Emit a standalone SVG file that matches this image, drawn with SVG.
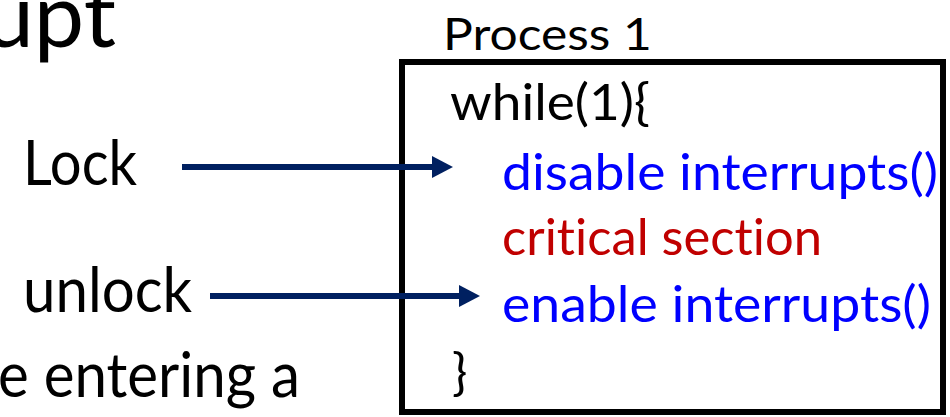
<svg xmlns="http://www.w3.org/2000/svg" width="950" height="417" viewBox="0 0 950 417">
<style>
text{font-family:Lato,"Open Sans","Liberation Sans",sans-serif;fill:#000;font-variant-ligatures:none;font-feature-settings:"liga" 0,"clig" 0}
.big{font-size:61px}
.code{font-size:51px}
.blue{fill:#0000FF}
.red{fill:#C00000}
.conn{stroke:#002060;stroke-width:6;fill:none}
</style>
<defs>
<marker id="ah" markerUnits="userSpaceOnUse" markerWidth="21" markerHeight="22" refX="0" refY="11" orient="auto">
<polygon points="0,0 21,11 0,22" fill="#002060"/>
</marker>
</defs>
<rect width="950" height="417" fill="#fff"/>
<g id="slide-text">
<text x="116" y="47" font-size="90" text-anchor="end">upt</text>
<text x="23" y="185" class="big" textLength="114" lengthAdjust="spacingAndGlyphs">Lock</text>
<text x="23" y="312" class="big" textLength="169" lengthAdjust="spacingAndGlyphs">unlock</text>
<text x="-2" y="397" class="big" textLength="302" lengthAdjust="spacingAndGlyphs">e entering a</text>
</g>
<g id="process1">
<text x="443" y="50" font-size="45" textLength="209" lengthAdjust="spacingAndGlyphs">Process 1</text>
<rect x="402" y="62" width="541" height="350" fill="none" stroke="#000" stroke-width="6"/>
<text x="450" y="120" class="code" textLength="200" lengthAdjust="spacingAndGlyphs">while(1){</text>
<text x="502" y="190" class="code blue" textLength="436" lengthAdjust="spacingAndGlyphs">disable interrupts()</text>
<text x="502" y="255" class="code red" textLength="320" lengthAdjust="spacingAndGlyphs">critical section</text>
<text x="502" y="322" class="code blue" textLength="429" lengthAdjust="spacingAndGlyphs">enable interrupts()</text>
<text x="452" y="390" class="code">}</text>
</g>
<g id="connectors">
<line class="conn" x1="182" y1="167" x2="432" y2="167" marker-end="url(#ah)"/>
<line class="conn" x1="210" y1="296" x2="459" y2="296" marker-end="url(#ah)"/>
</g>
</svg>
